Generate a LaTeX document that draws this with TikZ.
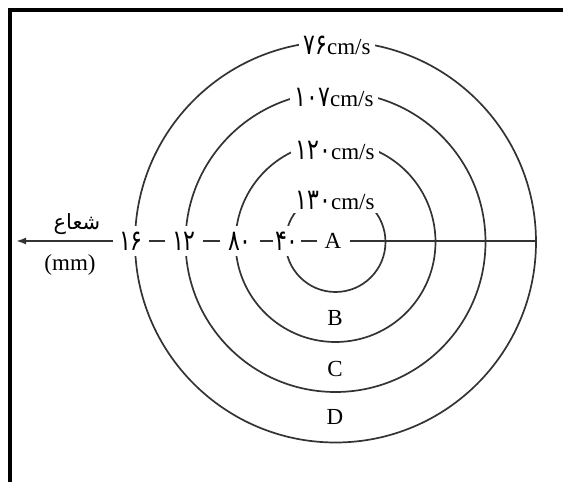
\documentclass[tikz,border=0pt]{standalone}
\usepackage{fontspec}
\setmainfont{Liberation Serif}
\newfontfamily\arabicfont[Script=Arabic]{DejaVu Sans}
\newfontfamily\dg{DejaVu Sans}
\TeXXeTstate=1
\usetikzlibrary{arrows.meta}
\newcommand{\dgt}[1]{\scalebox{0.92}[1.2]{\dg\fontsize{24}{26}\selectfont #1}}
\begin{document}
\begin{tikzpicture}[x=1pt,y=-1pt,
  ring/.style={draw=black!80,line width=1.7pt},
  axis/.style={draw=black!80,line width=1.8pt,-{Latex[length=10pt,width=7pt]}},
  lab/.style={fill=white,inner xsep=4pt,inner ysep=4pt,font=\fontsize{23}{25}\selectfont},
  rad/.style={fill=white,inner xsep=0pt,inner ysep=6pt,align=center},
  plain/.style={inner sep=1pt,font=\fontsize{23}{25}\selectfont}]
\useasboundingbox (0,0) rectangle (563,482);
\fill[white] (0,0) rectangle (563,482);
% frame
\coordinate (tl) at (10.3,8.3);
\coordinate (tr) at (563,8.3);
\coordinate (bl) at (10.3,482);
\draw[line width=3.4pt] ([xshift=-2pt]tl) ++(0,1.7) -- ([yshift=-1.7pt]tr);
\draw[line width=4pt] (tl) -- (bl);
% circles
\coordinate (c) at (335.5,242);
\draw[ring] (c) circle[radius=50pt];
\draw[ring] (c) circle[radius=100pt];
\draw[ring] (c) circle[radius=150pt];
\draw[ring] (c) circle[radius=200.5pt];
% axis
\coordinate (east) at (536,241);
\coordinate (tip) at (16,241);
\draw[axis] (east) -- (tip);
% radius labels
\node[rad,minimum width=36pt] (r16) at (131,241) {\dgt{۱۶}};
\node[rad,minimum width=38pt] (r12) at (184,241) {\dgt{۱۲}};
\node[rad,minimum width=40pt] (r8) at (240,241) {\dgt{۸۰}};
\node[rad,minimum width=28pt] (r4) at (287,241) {\dgt{۴۰}};
\node[lab,minimum width=33pt] (A) at (333,241) {A};
% speed labels
\node[lab] (v76) at (337,45) {\dgt{۷۶}cm/s};
\node[lab] (v107) at (334,97) {\dgt{۱۰۷}cm/s};
\node[lab] (v120) at (335,150) {\dgt{۱۲۰}cm/s};
\node[lab] (v130) at (335,200) {\dgt{۱۳۰}cm/s};
% ring letters
\node[plain] (B) at (335,318) {B};
\node[plain] (C) at (335,369) {C};
\node[plain] (D) at (335,417) {D};
% axis title
\node[inner sep=1pt,font=\fontsize{21}{23}\selectfont\arabicfont] (sh) at (77,224) {\beginR شعاع\endR};
\node[plain] (mm) at (70,265) {(mm)};
\end{tikzpicture}
\end{document}
